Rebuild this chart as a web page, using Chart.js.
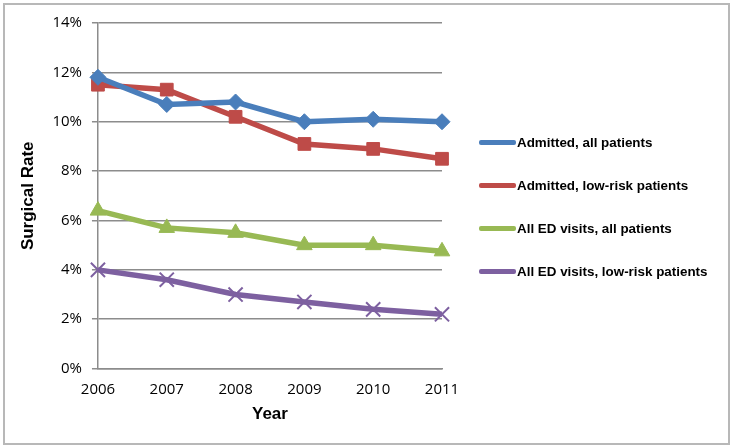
<!DOCTYPE html>
<html>
<head>
<meta charset="utf-8">
<script src="https://cdn.jsdelivr.net/npm/chart.js@4"></script>
<style>
  html, body { margin: 0; padding: 0; background: #fff; }
  #box { position: absolute; left: 3px; top: 3px; width: 723px; height: 438px; border: 2px solid #b8b8b8; }
  #wrap { position: absolute; left: 0; top: 0; width: 731px; height: 447px; }
  #legend { position: absolute; left: 479px; top: 133px; font: bold 13.4px "Liberation Sans", Arial, sans-serif; color: #000; }
  .item { height: 43px; line-height: 20px; white-space: nowrap; }
  .swatch { display: inline-block; width: 37px; height: 5px; border-radius: 2px; vertical-align: middle; margin-right: 1px; position: relative; top: -1px; }
</style>
</head>
<body>
<div id="box"></div>
<div id="wrap"><canvas id="myChart"></canvas></div>
<div id="legend"></div>
<script>
// chart data
var years = ['2006', '2007', '2008', '2009', '2010', '2011'];
var admittedAll = [11.8, 10.7, 10.8, 10.0, 10.1, 10.0];
var admittedLowRisk = [11.5, 11.3, 10.2, 9.1, 8.9, 8.5];
var edAll = [6.4, 5.7, 5.5, 5.0, 5.0, 4.75];
var edLowRisk = [4.0, 3.6, 3.0, 2.7, 2.4, 2.2];
var seriesNames = ['Admitted, all patients', 'Admitted, low-risk patients', 'All ED visits, all patients', 'All ED visits, low-risk patients'];
var yTicks = [0, 2, 4, 6, 8, 10, 12, 14];

function dataset(label, values, color, style, radius) {
	return {
		label: label,
		data: values,
		borderColor: color,
		backgroundColor: color,
		borderWidth: 5.5,
		pointStyle: style,
		pointRadius: radius,
		pointHoverRadius: radius,
		pointBorderWidth: style == 'crossRot' ? 2 : 1,
		tension: 0
	};
}

var ctx = document.getElementById('myChart');
var myChart = new Chart(ctx, {
	type: 'line',
	data: {
		labels: years,
		datasets: [
			dataset(seriesNames[0], admittedAll, '#4a7ebb', 'rectRot', 8),
			dataset(seriesNames[1], admittedLowRisk, '#be4b48', 'rect', 9),
			dataset(seriesNames[2], edAll, '#98b954', 'triangle', 9),
			dataset(seriesNames[3], edLowRisk, '#7d60a0', 'crossRot', 10)
		]
	},
	options: {
		responsive: true,
		maintainAspectRatio: false,
		animation: false,
		layout: { padding: { left: 14, right: 289, top: 23, bottom: 18 } },
		plugins: {
			tooltip: { enabled: false },
			legend: { display: false }
		},
		scales: {
			x: {
				offset: false,
				grid: { display: false, drawTicks: true, tickLength: 6, color: '#8c8c8c' },
				border: { color: '#8c8c8c', width: 1.5 },
				ticks: { color: '#000', padding: 6, font: { family: 'Open Sans', size: 15 } },
				title: { display: true, text: 'Year', color: '#000', padding: { top: 0 }, font: { family: 'Liberation Sans', size: 17, weight: 'bold' } }
			},
			y: {
				min: 0,
				max: 14,
				afterBuildTicks: function (axis) {
					axis.ticks = yTicks.map(function (v) { return { value: v }; });
				},
				grid: { color: '#8c8c8c', lineWidth: 1.5, tickLength: 6 },
				border: { color: '#8c8c8c', width: 1.5 },
				ticks: {
					color: '#000',
					padding: 10,
					font: { family: 'Open Sans', size: 15 },
					callback: function (v) { return v + '%'; }
				},
				title: { display: true, text: 'Surgical Rate', color: '#000', padding: { bottom: 4 }, font: { family: 'Liberation Sans', size: 17, weight: 'bold' } }
			}
		}
	}
});

// legend on the right, built from the same datasets
var legend = document.getElementById('legend');
myChart.data.datasets.forEach(function (ds) {
	var item = document.createElement('div');
	item.className = 'item';
	var sw = document.createElement('span');
	sw.className = 'swatch';
	sw.style.background = ds.borderColor;
	item.appendChild(sw);
	item.appendChild(document.createTextNode(ds.label));
	legend.appendChild(item);
});
</script>
</body>
</html>
